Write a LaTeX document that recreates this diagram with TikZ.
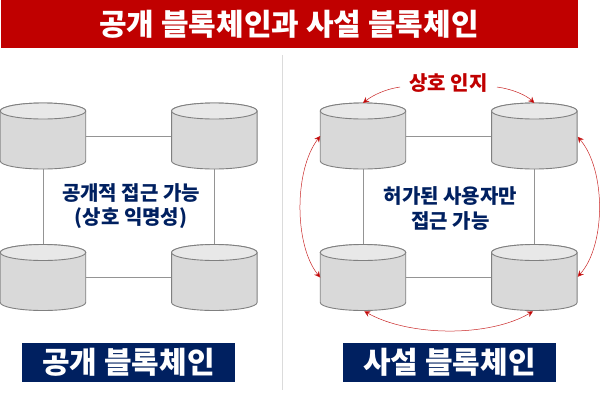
\documentclass[tikz,border=0pt]{standalone}
\usepackage{fontspec}
\setmainfont{Noto Sans CJK KR}
\usetikzlibrary{arrows.meta,backgrounds}
\definecolor{crim}{HTML}{C00000}
\definecolor{navy}{HTML}{002060}
\newcommand{\dbdraw}[1]{%
  \begin{scope}[shift={(#1.center)}]
    \path[dbline,fill=black!15] (-42.75,-25) -- (-42.75,25)
      arc[start angle=180,end angle=360,x radius=42.75pt,y radius=8pt]
      -- (42.75,-25) arc[start angle=0,end angle=180,x radius=42.75pt,y radius=8pt] -- cycle;
    \path[dbline,fill=black!9] (0,-25) ellipse[x radius=42.75pt,y radius=8pt];
  \end{scope}}
\tikzset{
  x=1pt,y=-1pt,
  dbbox/.style={rectangle,minimum width=85.5pt,minimum height=66pt,outer sep=0pt,inner sep=0pt},
  dbline/.style={draw=black!50,line width=0.9pt},
  link/.style={draw=black!42,line width=0.6pt},
  rarrow/.style={draw=crim!85,line width=0.5pt,-{Stealth[length=6pt,width=6pt,fill=crim]}},
  rboth/.style={draw=crim!85,line width=0.5pt,{Stealth[length=6pt,width=6pt,fill=crim]}-{Stealth[length=6pt,width=6pt,fill=crim]}},
  title/.style={font=\fontsize{30}{30}\selectfont\bfseries,text=white,inner sep=0pt},
  banner/.style={fill=navy,minimum width=213pt,minimum height=39pt,inner sep=0pt,font=\fontsize{30}{30}\selectfont\bfseries,text=white},
  note/.style={font=\fontsize{20}{25}\selectfont\bfseries,text=navy,inner sep=0pt},
}
\begin{document}
\begin{tikzpicture}
\useasboundingbox (0,0) rectangle (600,400);
\node[fill=crim,minimum width=577pt,minimum height=48pt,inner sep=0pt] (head) at (289.5,24) {};
\node[title] (headt) at (289,24) {공개 블록체인과 사설 블록체인};
\draw[black!14,line width=0.7pt] (282.5,55) -- (282.5,390);
\node[dbbox] (a) at (43,136) {};
\node[dbbox] (b) at (214.3,136) {};
\node[dbbox] (c) at (43,277.5) {};
\node[dbbox] (d) at (214.3,277.5) {};
\node[dbbox] (e) at (363,136) {};
\node[dbbox] (f) at (534.3,136) {};
\node[dbbox] (g) at (363,277.5) {};
\node[dbbox] (h) at (534.3,277.5) {};
\draw[link] (a)--(b) (b)--(d) (d)--(c) (c)--(a);
\draw[link] (e)--(f) (f)--(h) (h)--(g) (g)--(e);
\dbdraw{a}\dbdraw{b}\dbdraw{c}\dbdraw{d}\dbdraw{e}\dbdraw{f}\dbdraw{g}\dbdraw{h}
\node[note] (n1) at (131,193) {공개적 접근 가능};
\node[note] (n1b) at (131,218) {(상호 익명성)};
\node[note] (n2) at (450.5,196) {허가된 사용자만};
\node[note] (n2b) at (450.5,221) {접근 가능};
\node[note,text=crim] (n3) at (448.5,83) {상호 인지};
\coordinate (l1) at (400,87);
\coordinate (l2) at (497,87);
\draw[rarrow] (l1) .. controls (386,89) and (373,95) .. (e.north);
\draw[rarrow] (l2) .. controls (512,89) and (526,95) .. (f.north);
\draw[rboth] (e.west) .. controls (294,170) and (294,245) .. (g.west);
\draw[rboth,shorten <=1pt,shorten >=1pt] (f.east) .. controls (606,170) and (606,245) .. (h.east);
\draw[rboth,shorten <=1.5pt,shorten >=1.5pt] (g.south) .. controls (410,337) and (490,337) .. (h.south);
\node[banner] (p1) at (128.5,362.5) {공개 블록체인};
\node[banner] (p2) at (449.5,362.5) {사설 블록체인};
\end{tikzpicture}
\end{document}
